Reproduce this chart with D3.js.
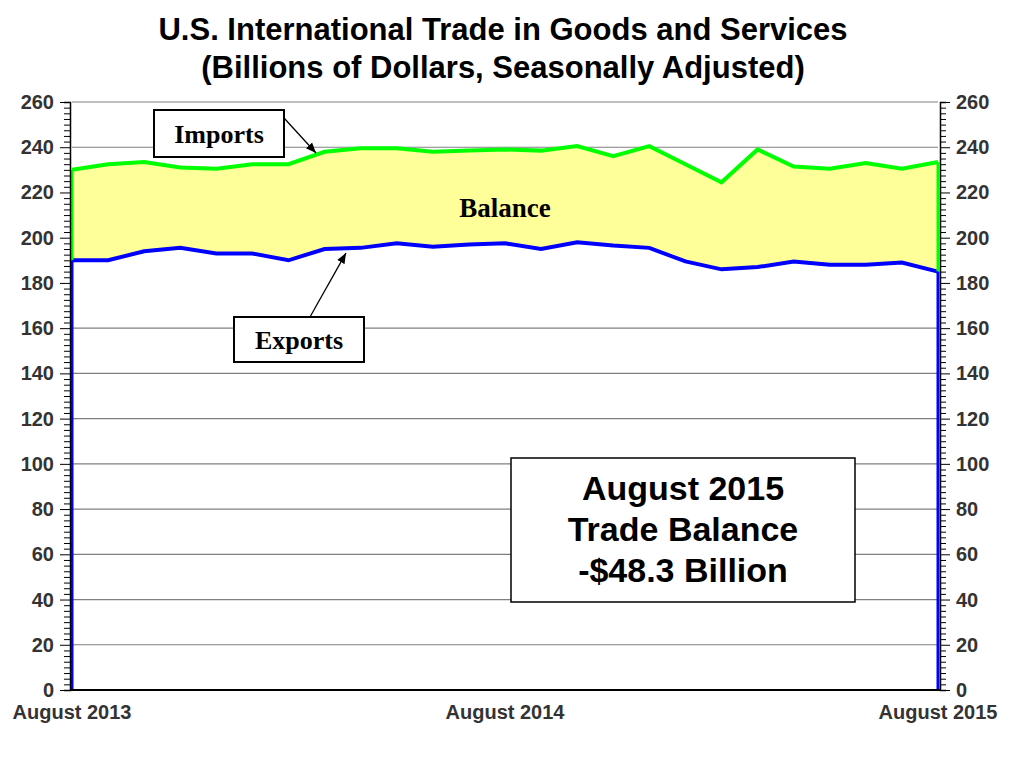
<!DOCTYPE html>
<html><head><meta charset="utf-8">
<script src="https://cdn.jsdelivr.net/npm/d3@7"></script>
<style>body{margin:0;background:#fff}</style>
</head><body><svg id="chart" width="1012" height="773" font-family="Arial, 'Liberation Sans', sans-serif"></svg>
<script>
var months = d3.range(25);
var imports = [230, 232.5, 233.5, 231, 230.5, 232.5, 232.5, 238, 239.5, 239.5, 238, 238.5, 239, 238.5, 240.5, 236, 240.5, 232.5, 224.5, 239, 231.5, 230.5, 233, 230.5, 233.5];
var exports = [190, 190, 194, 195.5, 193, 193, 190, 195, 195.5, 197.5, 196, 197, 197.5, 195, 198, 196.5, 195.5, 189.5, 186, 187, 189.5, 188, 188, 189, 185];
var yTicks = d3.range(0, 261, 20);
var xLabels = [[0, 'August 2013'], [12, 'August 2014'], [24, 'August 2015']];

var svg = d3.select('#chart');
var x = d3.scaleLinear().domain([0, 24]).range([72, 938]);
var y = d3.scaleLinear().domain([0, 260]).range([690, 102]);
var serif = '"Liberation Serif","Times New Roman",serif';

// grid
svg.append('g').selectAll('line').data(yTicks.slice(1)).enter().append('line')
  .attr('x1', 72).attr('x2', 938).attr('y1', d => y(d)).attr('y2', d => y(d))
  .attr('stroke', '#808080').attr('stroke-width', 1.2);

var area = function(vals) {
  return d3.area().x((d, i) => x(i)).y0(y(0)).y1(d => y(d))(vals);
};
svg.append('path').attr('d', area(imports)).attr('fill', '#ffff99');
svg.append('path').attr('d', area(exports)).attr('fill', '#fff');
svg.append('g').selectAll('line').data(yTicks.filter(d => d < 180 && d > 0)).enter().append('line')
  .attr('x1', 72).attr('x2', 938).attr('y1', d => y(d)).attr('y2', d => y(d))
  .attr('stroke', '#808080').attr('stroke-width', 1.2);

var line = d3.line().x((d, i) => x(i)).y(d => y(d));
svg.append('path').attr('d', line(imports)).attr('fill', 'none').attr('stroke', '#00ff00').attr('stroke-width', 4);
svg.append('path').attr('d', line(exports)).attr('fill', 'none').attr('stroke', '#0000ff').attr('stroke-width', 4);
// edges
svg.append('line').attr('x1', x(0)).attr('x2', x(0)).attr('y1', y(imports[0])).attr('y2', y(exports[0])).attr('stroke', '#00ff00').attr('stroke-width', 3);
svg.append('line').attr('x1', x(24)).attr('x2', x(24)).attr('y1', y(imports[24])).attr('y2', y(exports[24])).attr('stroke', '#00ff00').attr('stroke-width', 3);
svg.append('line').attr('x1', x(0)).attr('x2', x(0)).attr('y1', y(exports[0])).attr('y2', y(0)).attr('stroke', '#0000ff').attr('stroke-width', 3);
svg.append('line').attr('x1', x(24)).attr('x2', x(24)).attr('y1', y(exports[24])).attr('y2', y(0)).attr('stroke', '#0000ff').attr('stroke-width', 3);

// axes
var minor = d3.range(0, 260.1, 2.5);
var left = svg.append('g').attr('transform', 'translate(70,0)')
  .call(d3.axisLeft(y).tickValues(minor).tickSize(6).tickFormat(''));
var right = svg.append('g').attr('transform', 'translate(940,0)')
  .call(d3.axisRight(y).tickValues(minor).tickSize(6).tickFormat(''));
[left, right].forEach(g => { g.selectAll('line').attr('stroke', '#000'); g.select('.domain').attr('stroke', '#000').attr('stroke-width', 1.5); });
left.selectAll('.tick line').filter(d => d % 20 === 0).attr('x2', -10);
right.selectAll('.tick line').filter(d => d % 20 === 0).attr('x2', 10);
svg.append('line').attr('x1', 70).attr('x2', 940).attr('y1', 690).attr('y2', 690).attr('stroke', '#000').attr('stroke-width', 2);

svg.append('g').selectAll('text').data(yTicks).enter().append('text')
  .attr('x', 54).attr('y', d => y(d) + 7).attr('text-anchor', 'end')
  .attr('font-size', 20).attr('font-weight', 'bold').attr('fill', '#333').text(d => d);
svg.append('g').selectAll('text').data(yTicks).enter().append('text')
  .attr('x', 956).attr('y', d => y(d) + 7).attr('text-anchor', 'start')
  .attr('font-size', 20).attr('font-weight', 'bold').attr('fill', '#333').text(d => d);
svg.append('g').selectAll('text').data(xLabels).enter().append('text')
  .attr('x', d => x(d[0])).attr('y', 719).attr('text-anchor', 'middle')
  .attr('font-size', 20).attr('font-weight', 'bold').attr('fill', '#333').text(d => d[1]);

// title
svg.append('text').attr('x', 503).attr('y', 40).attr('text-anchor', 'middle').attr('font-size', 31).attr('font-weight', 'bold').text('U.S. International Trade in Goods and Services');
svg.append('text').attr('x', 503).attr('y', 78).attr('text-anchor', 'middle').attr('font-size', 31).attr('font-weight', 'bold').text('(Billions of Dollars, Seasonally Adjusted)');

// callouts
function callout(bx, by, bw, bh, label, ax1, ay1, ax2, ay2) {
  svg.append('line').attr('x1', ax1).attr('y1', ay1).attr('x2', ax2).attr('y2', ay2).attr('stroke', '#000').attr('stroke-width', 1.3).attr('marker-end', 'url(#arr)');
  svg.append('rect').attr('x', bx).attr('y', by).attr('width', bw).attr('height', bh).attr('fill', '#fff').attr('stroke', '#000').attr('stroke-width', 2);
  svg.append('text').attr('x', bx + bw / 2).attr('y', by + bh / 2 + 9).attr('text-anchor', 'middle')
    .attr('font-family', serif).attr('font-size', 26).attr('font-weight', 'bold').text(label);
}
svg.append('defs').append('marker').attr('id', 'arr').attr('viewBox', '0 0 10 10').attr('refX', 10).attr('refY', 5)
  .attr('markerWidth', 8).attr('markerHeight', 8).attr('orient', 'auto')
  .append('path').attr('d', 'M0,1L10,5L0,9Z').attr('fill', '#000');
callout(154, 110, 130, 47, 'Imports', 284, 118, 316, 153);
callout(234, 317, 130, 45, 'Exports', 310, 317, 346, 253);

svg.append('text').attr('x', 505).attr('y', 217).attr('text-anchor', 'middle')
  .attr('font-family', serif).attr('font-size', 27).attr('font-weight', 'bold').text('Balance');

svg.append('rect').attr('x', 511).attr('y', 458).attr('width', 344).attr('height', 144).attr('fill', '#fff').attr('stroke', '#000').attr('stroke-width', 1.5);
['August 2015', 'Trade Balance', '-$48.3 Billion'].forEach((t, i) => {
  svg.append('text').attr('x', 683).attr('y', 500 + i * 41).attr('text-anchor', 'middle')
    .attr('font-size', 34).attr('font-weight', 'bold').text(t);
});
</script></body></html>
